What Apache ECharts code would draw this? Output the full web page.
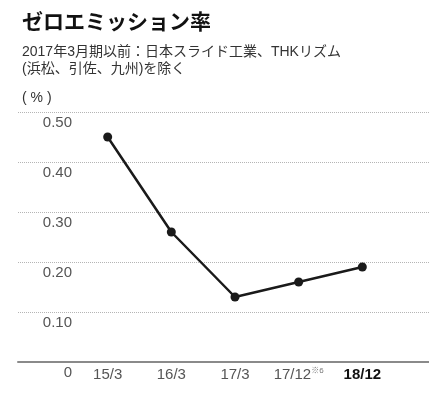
<!DOCTYPE html>
<html>
<head>
<meta charset="utf-8">
<script src="https://cdn.jsdelivr.net/npm/echarts@6/dist/echarts.min.js"></script>
<style>
  html, body { margin: 0; padding: 0; background: #fff; }
  #chart { width: 429px; height: 406px; }
</style>
</head>
<body>
<div id="chart"></div>
<script>
// ゼロエミッション率
const categories = ['15/3', '16/3', '17/3', '17/12', '18/12'];
const rates = [0.45, 0.26, 0.13, 0.16, 0.19];
const yTicks = [0, 0.1, 0.2, 0.3, 0.4, 0.5];

const font = '"Liberation Sans", "Noto Sans CJK JP", sans-serif';
const chart = echarts.init(document.getElementById('chart'));

// pad the category list so the first point sits one step in from the grid edge
const xData = [''].concat(categories, ['']);
const yData = [null].concat(rates, [null]);

const option = {
  animation: false,
  textStyle: { fontFamily: font },
  title: [{
    text: 'ゼロエミッション率',
    left: 17,
    top: 8,
    textStyle: { fontSize: 21, fontWeight: 'bold', color: '#111', fontFamily: font }
  }, {
    text: '2017年3月期以前：日本スライド工業、THKリズム\n(浜松、引佐、九州)を除く',
    left: 17,
    top: 39,
    textStyle: { fontSize: 14, fontWeight: 'normal', color: '#333', lineHeight: 17, fontFamily: font }
  }, {
    text: '( % )',
    left: 17,
    top: 86,
    textStyle: { fontSize: 14, fontWeight: 'normal', color: '#333', fontFamily: font }
  }],
  grid: [
    { left: 18, right: 0, top: 112, bottom: 44 },
    { left: 44, right: 0, top: 112, bottom: 44 }
  ],
  xAxis: [{
    gridIndex: 0,
    type: 'value',
    min: 0,
    max: 1,
    axisLine: { show: true, onZero: false, lineStyle: { color: '#8a8a8a', width: 2 } },
    axisTick: { show: false },
    axisLabel: { show: false },
    splitLine: { show: false }
  }, {
    gridIndex: 1,
    type: 'category',
    boundaryGap: false,
    data: xData,
    axisLine: { show: false },
    axisTick: { show: false },
    splitLine: { show: false },
    axisLabel: {
      interval: 0,
      margin: 5,
      fontSize: 15,
      color: '#555',
      formatter: function (v) {
        if (v === '17/12') return '{a|17/12}{s|※6}';
        if (v === '18/12') return '{b|18/12}';
        return v;
      },
      rich: {
        a: { fontSize: 15, color: '#555', fontFamily: font },
        s: { fontSize: 8, color: '#777', padding: [0, 0, 8, 0], fontFamily: font },
        b: { fontSize: 15, color: '#111', fontWeight: 'bold', fontFamily: font }
      }
    }
  }],
  yAxis: [{
    gridIndex: 0,
    type: 'value',
    min: 0,
    max: 0.5,
    interval: 0.1,
    axisLine: { show: false },
    axisTick: { show: false },
    splitLine: { show: true, lineStyle: { color: '#b5b5b5', type: 'dotted', width: 1 } },
    axisLabel: {
      inside: true,
      align: 'right',
      verticalAlign: 'top',
      margin: 54,
      padding: [3, 0, 0, 0],
      fontSize: 15,
      color: '#555',
      formatter: function (v) { return v === 0 ? '0' : v.toFixed(2); }
    }
  }, {
    gridIndex: 1,
    type: 'value',
    min: 0,
    max: 0.5,
    show: false
  }],
  series: [{
    type: 'line',
    xAxisIndex: 1,
    yAxisIndex: 1,
    data: yData,
    symbol: 'circle',
    symbolSize: 9,
    lineStyle: { color: '#1a1a1a', width: 2.5 },
    itemStyle: { color: '#1a1a1a' }
  }]
};

chart.setOption(option);
</script>
</body>
</html>
